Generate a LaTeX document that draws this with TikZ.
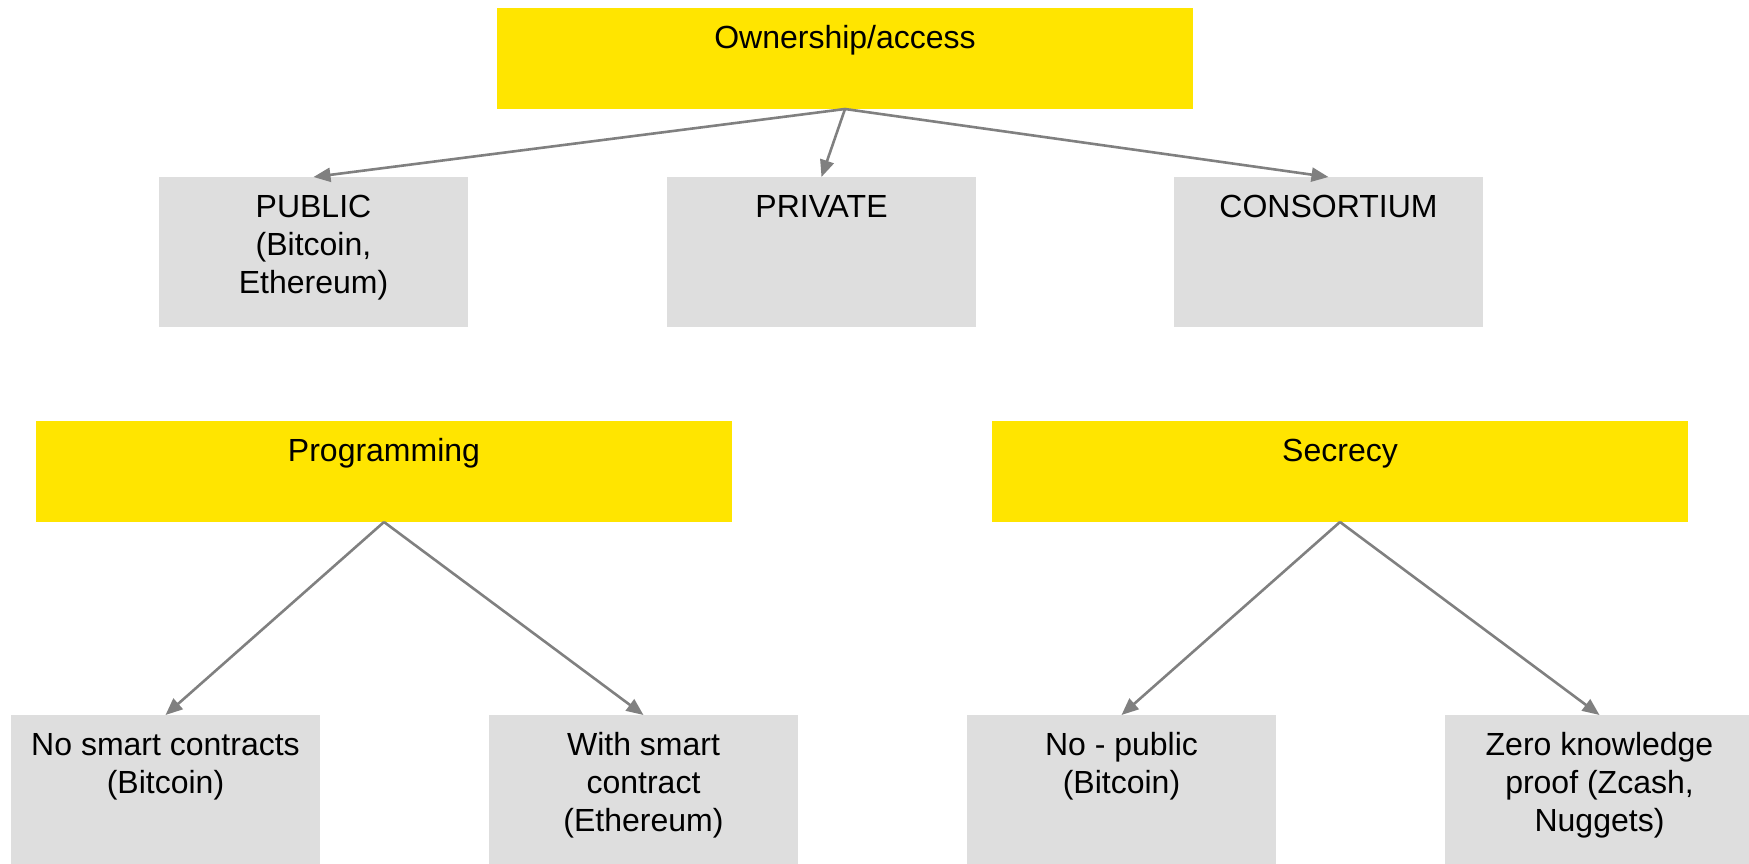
\documentclass[tikz,border=0pt]{standalone}
\usepackage{fontspec}
\setmainfont{Liberation Sans}
\usetikzlibrary{arrows.meta}
\definecolor{yel}{RGB}{255,229,0}
\definecolor{gry}{RGB}{222,222,222}
\definecolor{arr}{RGB}{128,128,128}
\newcommand{\tbx}[3]{\parbox[c][#2][t]{#1}{\centering\rule{0pt}{40pt}#3}}
\tikzset{
  ybox/.style={fill=yel, inner sep=0pt, outer sep=0pt, anchor=north west, font=\fontsize{32pt}{38pt}\selectfont},
  gbox/.style={fill=gry, inner sep=0pt, outer sep=0pt, anchor=north west, font=\fontsize{32pt}{38pt}\selectfont},
  conn/.style={draw=arr, line width=2.6pt, -{Triangle[length=17pt,width=14pt]}}
}
\begin{document}
\begin{tikzpicture}[x=1pt,y=-1pt]
\useasboundingbox (0,0) rectangle (1749,863);
\clip (0,0) rectangle (1749,863);
% top level
\node[ybox] (own) at (497,8) {\tbx{696pt}{101pt}{Ownership/access}};
\node[gbox] (pub) at (159,177) {\tbx{309pt}{150pt}{PUBLIC\\(Bitcoin,\\Ethereum)}};
\node[gbox] (pri) at (667,177) {\tbx{309pt}{150pt}{PRIVATE}};
\node[gbox] (con) at (1174,177) {\tbx{309pt}{150pt}{CONSORTIUM}};
% second level
\node[ybox] (prog) at (36,421) {\tbx{696pt}{101pt}{Programming}};
\node[ybox] (sec) at (992,421) {\tbx{696pt}{101pt}{Secrecy}};
\node[gbox] (nosc) at (11,715) {\tbx{309pt}{150pt}{No smart contracts\\(Bitcoin)}};
\node[gbox] (wsc) at (489,715) {\tbx{309pt}{150pt}{With smart\\contract\\(Ethereum)}};
\node[gbox] (nop) at (967,715) {\tbx{309pt}{150pt}{No - public\\(Bitcoin)}};
\node[gbox] (zkp) at (1445,715) {\tbx{309pt}{150pt}{Zero knowledge\\proof (Zcash,\\Nuggets)}};
% connectors
\draw[conn] (own.south) -- (pub.north);
\draw[conn] (own.south) -- (pri.north);
\draw[conn] (own.south) -- (con.north);
\draw[conn] (prog.south) -- (nosc.north);
\draw[conn] (prog.south) -- (wsc.north);
\draw[conn] (sec.south) -- (nop.north);
\draw[conn] (sec.south) -- (zkp.north);
\end{tikzpicture}
\end{document}
